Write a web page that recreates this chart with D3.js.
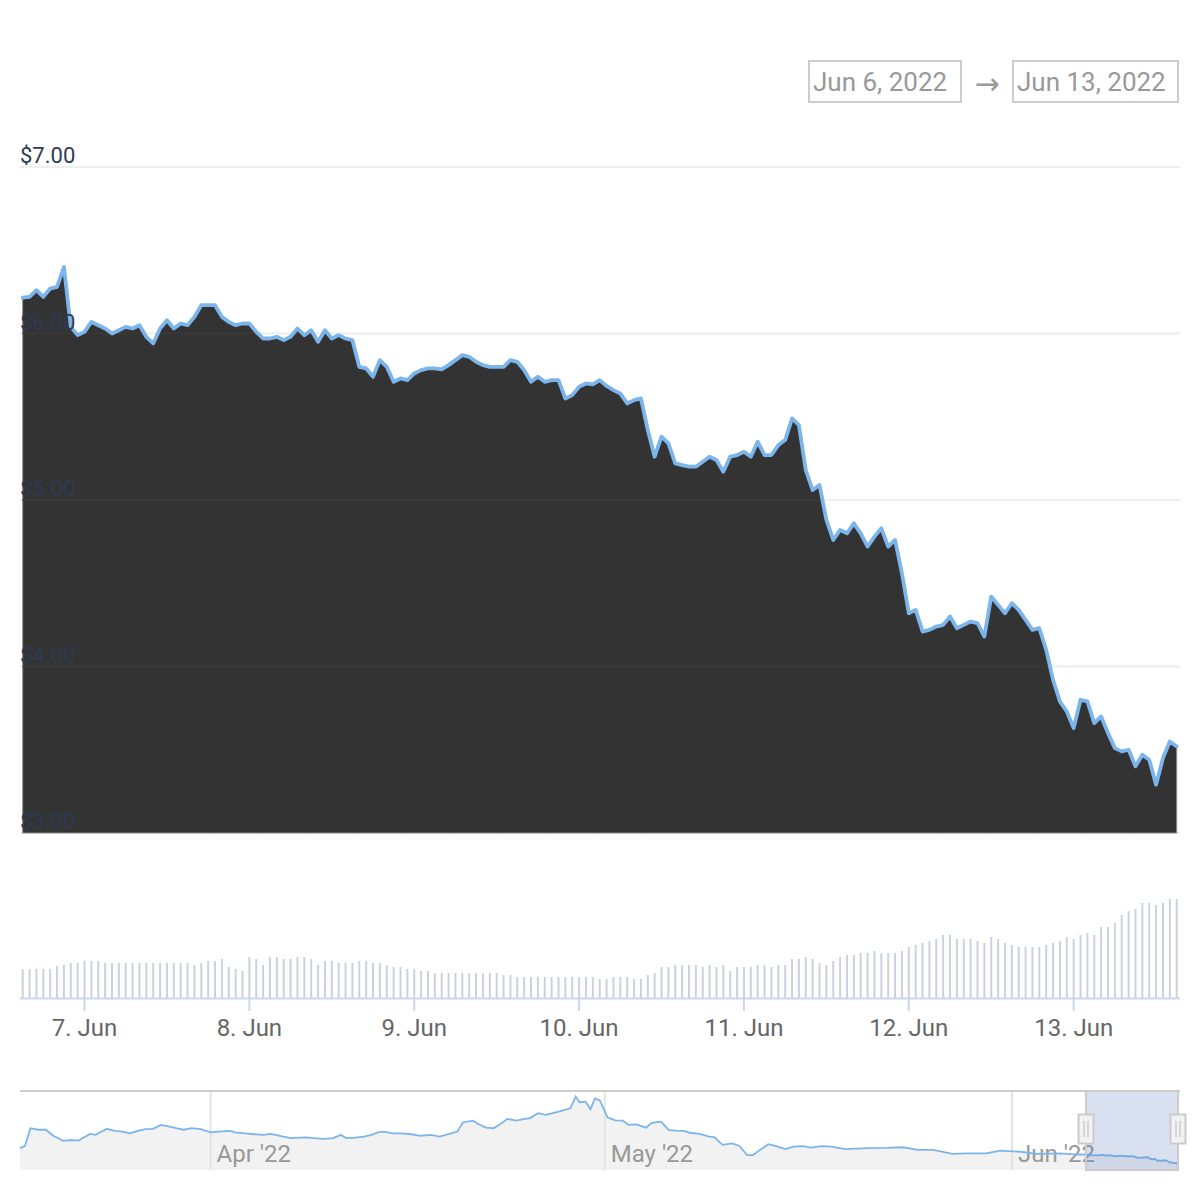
<!DOCTYPE html>
<html><head><meta charset="utf-8">
<script src="https://cdn.jsdelivr.net/npm/d3@7"></script>
<style>body{margin:0;background:#fff} svg{display:block;font-family:Roboto,"Noto Sans",sans-serif}</style>
</head><body><svg id="c" width="1200" height="1200"></svg>
<script>
// ---- data ----
const startTime = "2022-06-06T15"; // first hourly point (UTC)
const endTime = "2022-06-13T15";
const prices = [
 6.215, 6.22, 6.26, 6.22, 6.27, 6.28, 6.40, 6.04, 5.99, 6.01,
 6.07, 6.05, 6.03, 6.00, 6.02, 6.04, 6.03, 6.05, 5.98, 5.94,
 6.03, 6.08, 6.03, 6.06, 6.05, 6.10, 6.17, 6.17, 6.17, 6.10,
 6.07, 6.05, 6.06, 6.06, 6.01, 5.97, 5.97, 5.98, 5.96, 5.98,
 6.03, 5.99, 6.02, 5.95, 6.02, 5.97, 5.99, 5.97, 5.96, 5.80,
 5.79, 5.74, 5.84, 5.80, 5.71, 5.73, 5.72, 5.76, 5.78, 5.79,
 5.79, 5.785, 5.81, 5.84, 5.87, 5.86, 5.83, 5.81, 5.80, 5.80,
 5.80, 5.84, 5.83, 5.78, 5.71, 5.74, 5.71, 5.72, 5.72, 5.61,
 5.63, 5.68, 5.70, 5.695, 5.72, 5.685, 5.66, 5.64, 5.58, 5.60,
 5.61, 5.42, 5.26, 5.38, 5.34, 5.22, 5.21, 5.20, 5.20, 5.23,
 5.26, 5.24, 5.17, 5.26, 5.27, 5.29, 5.26, 5.35, 5.27, 5.27,
 5.33, 5.36, 5.49, 5.45, 5.18, 5.06, 5.09, 4.88, 4.76, 4.82,
 4.80, 4.86, 4.80, 4.72, 4.78, 4.83, 4.72, 4.76, 4.56, 4.32,
 4.34, 4.21, 4.22, 4.24, 4.25, 4.30, 4.23, 4.25, 4.27, 4.26,
 4.18, 4.42, 4.37, 4.32, 4.38, 4.34, 4.28, 4.22, 4.23, 4.10,
 3.92, 3.79, 3.73, 3.63, 3.80, 3.79, 3.66, 3.70, 3.60, 3.51,
 3.49, 3.50, 3.40, 3.47, 3.44, 3.29, 3.45, 3.55, 3.52];
const volumes = [
 2.9,2.9,2.9,2.9,2.9,3.2,3.3,3.5,3.5,3.7,
 3.7,3.7,3.5,3.5,3.5,3.5,3.5,3.5,3.5,3.5,
 3.5,3.5,3.5,3.5,3.5,3.3,3.5,3.7,3.7,3.9,
 3.1,2.9,2.7,4.1,3.9,3.3,4.1,4.1,3.9,3.9,
 4.1,4.1,3.9,3.3,3.7,3.7,3.5,3.5,3.5,3.7,
 3.7,3.5,3.5,3.3,3.1,3.1,2.9,2.9,2.7,2.7,
 2.5,2.5,2.5,2.5,2.5,2.5,2.5,2.5,2.5,2.5,
 2.3,2.3,2.1,2.1,2.1,2.1,2.1,2.1,2.1,2.1,
 2.1,2.1,2.1,2.1,
 1.9,1.9,2.1,2.1,2.1,1.9,1.9,2.3,2.5,3.1,
 3.1,3.3,3.3,3.3,3.3,3.1,3.3,3.1,3.3,2.7,
 3.1,3.1,3.1,3.3,3.3,3.1,3.3,3.3,3.9,3.9,
 4.1,3.9,3.5,3.3,3.7,4.1,4.3,4.3,4.5,4.5,
 4.7,4.5,4.5,4.5,4.7,5.1,5.3,5.5,5.7,5.9,
 6.3,6.3,5.9,5.9,5.9,5.7,5.5,6.1,5.9,5.5,
 5.3,5.1,5.1,5.1,5.1,5.3,5.5,5.7,6.1,5.9,
 6.3,6.5,6.3,7.1,7.1,7.5,8.3,8.7,8.9,9.5,
 9.5,9.3,9.5,9.9,9.9];
const yTicks = [3, 4, 5, 6, 7];
const dayTicks = ["2022-06-07T00","2022-06-08T00","2022-06-09T00","2022-06-10T00","2022-06-11T00","2022-06-12T00","2022-06-13T00"];
const navDates = [
 "2022-03-17T12","2022-03-17T21","2022-03-18T07","2022-03-18T21","2022-03-19T11","2022-03-20T01","2022-03-20T19","2022-03-21T09","2022-03-21T23","2022-03-22T06",
 "2022-03-22T20","2022-03-23T06","2022-03-23T17","2022-03-24T03","2022-03-24T17","2022-03-25T07","2022-03-25T21","2022-03-26T11","2022-03-27T01","2022-03-27T15",
 "2022-03-28T05","2022-03-28T19","2022-03-29T09","2022-03-29T23","2022-03-30T13","2022-03-31T06","2022-04-01T00","2022-04-01T14","2022-04-02T11","2022-04-02T21",
 "2022-04-03T15","2022-04-04T08","2022-04-05T02","2022-04-05T12","2022-04-05T23","2022-04-06T13","2022-04-07T03","2022-04-07T17","2022-04-08T07","2022-04-08T21",
 "2022-04-09T14","2022-04-10T08","2022-04-10T22","2022-04-11T08","2022-04-12T01","2022-04-12T16","2022-04-13T06","2022-04-13T19","2022-04-14T06","2022-04-14T20",
 "2022-04-15T13","2022-04-16T07","2022-04-17T00","2022-04-17T18","2022-04-18T11","2022-04-19T01","2022-04-19T19","2022-04-20T05","2022-04-20T23","2022-04-21T09",
 "2022-04-21T23","2022-04-22T13","2022-04-23T03","2022-04-23T14","2022-04-24T07","2022-04-24T21","2022-04-25T07","2022-04-25T22","2022-04-26T12","2022-04-27T01",
 "2022-04-27T15","2022-04-28T09","2022-04-28T19","2022-04-29T02","2022-04-29T13","2022-04-29T22","2022-04-30T06","2022-04-30T15","2022-05-01T05","2022-05-01T19",
 "2022-05-02T09","2022-05-02T20","2022-05-03T10","2022-05-04T03","2022-05-04T14","2022-05-05T07","2022-05-05T21","2022-05-06T11","2022-05-07T01","2022-05-07T11",
 "2022-05-08T05","2022-05-08T23","2022-05-09T09","2022-05-09T23","2022-05-10T17","2022-05-11T06","2022-05-11T20","2022-05-12T07","2022-05-12T17","2022-05-13T11",
 "2022-05-14T01","2022-05-14T18","2022-05-15T08","2022-05-16T02","2022-05-16T16","2022-05-17T13","2022-05-18T06","2022-05-19T07","2022-05-21T01","2022-05-22T12",
 "2022-05-23T16","2022-05-24T20","2022-05-26T00","2022-05-27T11","2022-05-28T14","2022-05-30T01","2022-05-31T02","2022-06-01T16","2022-06-02T20","2022-06-04T14",
 "2022-06-05T12"];
const navValues = [
 8.4,9.1,15.0,14.5,14.5,12.5,10.8,11.1,10.9,11.7,
 13.1,12.8,13.9,14.8,14.1,13.9,13.3,14.1,14.7,14.8,
 16.1,15.6,15.0,14.5,15.0,14.7,13.6,13.9,14.1,13.6,
 13.3,13.0,12.8,13.1,12.8,12.2,11.7,11.9,12.0,11.7,
 11.5,11.7,12.8,11.7,11.9,12.2,12.8,13.7,13.9,13.3,
 13.3,13.0,12.5,12.8,12.2,13.0,13.9,16.9,17.5,16.4,
 15.2,15.0,16.6,18.1,17.5,18.1,18.3,20.0,19.4,20.0,
 20.7,21.6,25.5,23.6,23.8,21.3,24.9,24.2,18.6,17.6,
 17.5,16.1,16.3,15.2,16.8,17.2,14.4,14.2,14.1,13.5,
 13.1,12.2,12.0,9.5,10.0,9.1,6.1,6.1,7.5,9.7,
 9.1,8.1,8.9,9.1,8.6,9.1,8.9,8.1,8.4,8.5,
 8.7,7.8,7.8,6.5,6.7,6.7,7.6,7.2,6.5,6.7,
 6.4];
const navMonthTicks = ["2022-04-01T00","2022-05-01T00","2022-06-01T00"];
const rangeLabels = ["Jun 6, 2022", "Jun 13, 2022"];

// ---- build ----
const parse = d3.utcParse("%Y-%m-%dT%H");
const t0 = parse(startTime), t1 = parse(endTime);
const series = prices.map((v, i) => ({t: d3.utcHour.offset(t0, i), v}));
const vol = volumes.map((v, i) => ({t: d3.utcHour.offset(t0, i), v}));
const nav = navDates.map((d, i) => ({t: parse(d), v: navValues[i]})).concat(series);

const svg = d3.select("#c");
const x = d3.scaleUtc().domain([t0, t1]).range([22.7, 1176.7]);
const y = d3.scaleLinear().domain([3, 7]).range([833, 167]);
const yv = d3.scaleLinear().domain([0, 10]).range([998, 898]);
const xn = d3.scaleUtc().domain([nav[0].t, t1]).range([20, 1178]);
const yn = d3.scaleLinear().domain([0, 27]).range([1173.5, 1092]);

// range selector boxes
const boxes = [{x: 809, w: 152}, {x: 1013, w: 165}];
boxes.forEach((b, i) => {
  svg.append("rect").attr("x", b.x).attr("y", 61).attr("width", b.w).attr("height", 41)
    .attr("fill", "#fff").attr("stroke", "#ccc").attr("stroke-width", 2);
  svg.append("text").attr("x", b.x + 4).attr("y", 91).attr("font-size", 26)
    .attr("fill", "#999").text(rangeLabels[i]);
});
svg.append("text").attr("x", 987).attr("y", 94).attr("text-anchor", "middle")
  .attr("font-family", "'DejaVu Sans'").attr("font-size", 30).attr("fill", "#999").text("→");

// grid
svg.append("g").selectAll("line").data(yTicks).join("line")
  .attr("x1", 20).attr("x2", 1180).attr("y1", d => y(d)).attr("y2", d => y(d))
  .attr("stroke", "#eeeeee").attr("stroke-width", 2);

// area + line
const areaGen = d3.area().x(d => x(d.t)).y0(y(3)).y1(d => y(d.v));
svg.append("clipPath").attr("id", "areaClip").append("path").datum(series).attr("d", areaGen);
svg.append("path").datum(series)
  .attr("d", areaGen)
  .attr("fill", "#333333").attr("stroke", "#8a8a8a").attr("stroke-width", 1);
svg.append("g").attr("clip-path", "url(#areaClip)")
  .selectAll("line").data(yTicks.slice(1, 4)).join("line")
  .attr("x1", 20).attr("x2", 1180).attr("y1", d => y(d)).attr("y2", d => y(d))
  .attr("stroke", "#383838").attr("stroke-width", 2);
svg.append("path").datum(series)
  .attr("d", d3.line().x(d => x(d.t)).y(d => y(d.v)))
  .attr("fill", "none").attr("stroke", "#7cb5ec").attr("stroke-width", 3.8)
  .attr("stroke-linejoin", "round").attr("stroke-linecap", "round");

// y labels
svg.append("g").selectAll("text").data(yTicks).join("text")
  .attr("x", 20).attr("y", d => y(d) - 4).attr("font-size", 22)
  .attr("fill", "#2e3a52").text(d => "$" + d.toFixed(2));

// volume
svg.append("g").selectAll("rect").data(vol).join("rect")
  .attr("x", d => x(d.t) - 1).attr("width", 2)
  .attr("y", d => yv(d.v)).attr("height", d => yv(0) - yv(d.v))
  .attr("fill", "#ccd1dd");
svg.append("line").attr("x1", 20).attr("x2", 1180).attr("y1", 998.5).attr("y2", 998.5)
  .attr("stroke", "#ccd6eb").attr("stroke-width", 2);
const days = dayTicks.map(parse);
svg.append("g").selectAll("line").data(days).join("line")
  .attr("x1", d => x(d)).attr("x2", d => x(d)).attr("y1", 998).attr("y2", 1011)
  .attr("stroke", "#ccd6eb").attr("stroke-width", 2);
svg.append("g").selectAll("text").data(days).join("text")
  .attr("x", d => x(d)).attr("y", 1036).attr("text-anchor", "middle")
  .attr("font-size", 24).attr("fill", "#666").text(d3.utcFormat("%-d. %b"));

// navigator
svg.append("path").datum(nav)
  .attr("d", d3.area().x(d => xn(d.t)).y0(1170).y1(d => yn(d.v)))
  .attr("fill", "#f2f2f2");
const months = navMonthTicks.map(parse);
svg.append("g").selectAll("line").data(months).join("line")
  .attr("x1", d => xn(d)).attr("x2", d => xn(d)).attr("y1", 1091).attr("y2", 1170)
  .attr("stroke", "#e2e2e2").attr("stroke-width", 2);
svg.append("g").selectAll("text").data(months).join("text")
  .attr("x", d => xn(d) + 6).attr("y", 1162).attr("font-size", 24)
  .attr("fill", "#999").text(d3.utcFormat("%b '%y"));
svg.append("path").datum(nav)
  .attr("d", d3.line().x(d => xn(d.t)).y(d => yn(d.v)))
  .attr("fill", "none").attr("stroke", "#7cb5ec").attr("stroke-width", 1.8);
const s0 = xn(t0), s1 = xn(t1);
svg.append("line").attr("x1", 20).attr("x2", 1180).attr("y1", 1091).attr("y2", 1091)
  .attr("stroke", "#cccccc").attr("stroke-width", 2);
svg.append("rect").attr("x", s0).attr("y", 1091).attr("width", s1 - s0).attr("height", 79)
  .attr("fill", "rgba(102,133,194,0.25)").attr("stroke", "#cccccc").attr("stroke-width", 2);
[s0, s1].forEach(sx => {
  svg.append("rect").attr("x", sx - 7.5).attr("y", 1114.5).attr("width", 15).attr("height", 29)
    .attr("fill", "#f2f2f2").attr("stroke", "#cccccc").attr("stroke-width", 2);
  [-2, 2].forEach(o => svg.append("line").attr("x1", sx + o).attr("x2", sx + o)
    .attr("y1", 1121).attr("y2", 1137).attr("stroke", "#cccccc").attr("stroke-width", 1.5));
});
</script></body></html>
